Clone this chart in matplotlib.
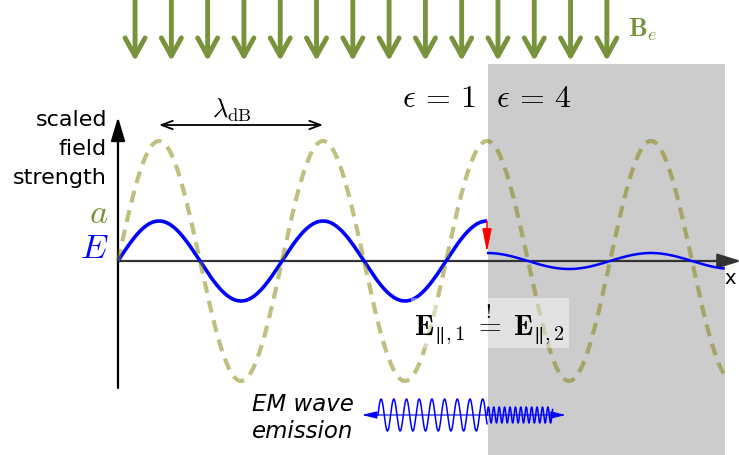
import numpy as np
import matplotlib
matplotlib.use("Agg")
import matplotlib.pyplot as plt
from matplotlib.patches import Rectangle

plt.rcParams["mathtext.fontset"] = "cm"
plt.rcParams["font.family"] = ["DejaVu Sans"]

# --- physical parameters of the sketch (x in units of lambda_dB, y in units of E1) ---
wavelength = 1.0
interface_x = 2.25          # boundary between the two media
medium_end = 3.70           # right end of the dielectric slab
eps_values = [1, 4]
E1_amp = 1.0                # field amplitude in vacuum
E2_amp = 0.2                # field amplitude inside the slab
a_amp = 3.0                 # axion-like field amplitude
n_field_arrows = 14
field_arrow_start = 0.104
field_arrow_step = 0.2213

# emitted EM wave
em_center = -3.85
em_left = (1.585, 2.25)
em_right = (2.25, 2.65)
em_amp = [0.40, 0.20]
em_period = [0.0774, 0.033]

blue = "#0000ff"
green = "#77933c"
olive = "olive"
gray = "#cccccc"

fig = plt.figure(figsize=(7.39, 4.56), dpi=100)
ax = fig.add_axes([0, 0, 1, 1])
ax.set_xlim(-0.7195, 3.7866)
ax.set_ylim(-4.85, 6.55)
ax.axis("off")

# dielectric region
ax.add_patch(Rectangle((interface_x + 0.006, -4.85), medium_end - interface_x - 0.006,
                       4.925 + 4.85, facecolor=gray, edgecolor="none", zorder=0))

# axes of the sketch
ax.annotate("", xy=(3.80, 0), xytext=(0, 0),
            arrowprops=dict(arrowstyle="-|>,head_length=1.45,head_width=0.45",
                            mutation_scale=10, lw=1.6, color="#333333",
                            shrinkA=0, shrinkB=0), zorder=2,
            annotation_clip=False)
ax.annotate("", xy=(0, 3.6), xytext=(0, -3.175),
            arrowprops=dict(arrowstyle="-|>,head_length=1.45,head_width=0.43",
                            mutation_scale=10, lw=1.6, color="black",
                            shrinkA=0, shrinkB=0), zorder=2,
            annotation_clip=False)
ax.text(3.70, -0.42, "x", fontsize=14, ha="left", va="center")

# E field in both media
x1 = np.linspace(0, interface_x, 400)
x2 = np.linspace(interface_x, medium_end, 300)
ax.plot(x1, E1_amp * np.sin(2 * np.pi * x1 / wavelength), color=blue, lw=2.6,
        solid_capstyle="butt", zorder=3)
ax.plot(x2, E2_amp * np.sin(2 * np.pi * x2 / wavelength), color=blue, lw=1.8,
        solid_capstyle="butt", zorder=3)

# a field (dashed)
xa = np.linspace(0, medium_end, 800)
ax.plot(xa, a_amp * np.sin(2 * np.pi * xa / wavelength), color=olive, alpha=0.5,
        lw=3.0, linestyle=(0, (2.9, 1.9)), zorder=4)

# jump of the field at the boundary
ax.annotate("", xy=(interface_x, E2_amp + 0.02), xytext=(interface_x, E1_amp),
            arrowprops=dict(arrowstyle="-|>,head_length=1.4,head_width=0.28",
                            mutation_scale=10, lw=1.1, color="red",
                            shrinkA=0, shrinkB=0), zorder=5)

# external magnetic field
for i in range(n_field_arrows):
    xb = field_arrow_start + i * field_arrow_step
    ax.annotate("", xy=(xb, 5.0), xytext=(xb, 6.7),
                arrowprops=dict(arrowstyle="->,head_length=1.3,head_width=0.72",
                                mutation_scale=10, lw=3.5, color=green,
                                shrinkA=0, shrinkB=0), zorder=3,
                annotation_clip=False)
ax.text(3.11, 5.8, r"$\mathbf{B}_e$", color=green, fontsize=19, ha="left",
        va="center")

# de Broglie wavelength marker
ax.annotate("", xy=(0.25 + wavelength, 3.4), xytext=(0.25, 3.4),
            arrowprops=dict(arrowstyle="<->,head_length=0.8,head_width=0.3",
                            mutation_scale=10, lw=1.3, color="black",
                            shrinkA=0, shrinkB=0))
ax.text(0.695, 3.6, r"$\lambda_{\rm dB}$", fontsize=19, ha="center",
        va="baseline")

# permittivities
ax.text(1.957, 3.875, r"$\epsilon\,=\,%d$" % eps_values[0], fontsize=23,
        ha="center", va="baseline")
ax.text(2.537, 3.875, r"$\epsilon\,=\,%d$" % eps_values[1], fontsize=23,
        ha="center", va="baseline")

# axis labels
ax.text(-0.067, 1.95, "scaled\nfield\nstrength", fontsize=16, ha="right",
        va="baseline", linespacing=1.55)
ax.text(-0.06, 0.975, r"$a$", fontsize=25, color=green, ha="right",
        va="baseline")
ax.text(-0.06, 0.1, r"$E$", fontsize=25, color=blue, ha="right",
        va="baseline")

# boundary condition
ax.text(2.268, -1.55,
        r"$\mathbf{E}_{‖,1}\; \overset{!}{=}\; \mathbf{E}_{‖,2}$",
        fontsize=21, ha="center", va="center", zorder=6,
        bbox=dict(boxstyle="square,pad=0.12", facecolor="white", alpha=0.45,
                  edgecolor="none"))

# emitted EM wave
ax.annotate("", xy=(2.73, em_center), xytext=(1.488, em_center),
            arrowprops=dict(arrowstyle="<|-|>,head_length=0.9,head_width=0.22",
                            mutation_scale=10, lw=0.8, color=blue,
                            shrinkA=0, shrinkB=0), zorder=3)
for (xa0, xa1), amp, per in zip([em_left, em_right], em_amp, em_period):
    xe = np.linspace(xa0, xa1, 600)
    ax.plot(xe, em_center + amp * np.sin(2 * np.pi * (xe - xa0) / per),
            color=blue, lw=1.1, zorder=4)
ax.text(1.436, -4.4, "EM wave\nemission", fontsize=16.5, style="italic",
        ha="right", va="baseline", linespacing=1.2)

fig.savefig("out.png", dpi=100)
